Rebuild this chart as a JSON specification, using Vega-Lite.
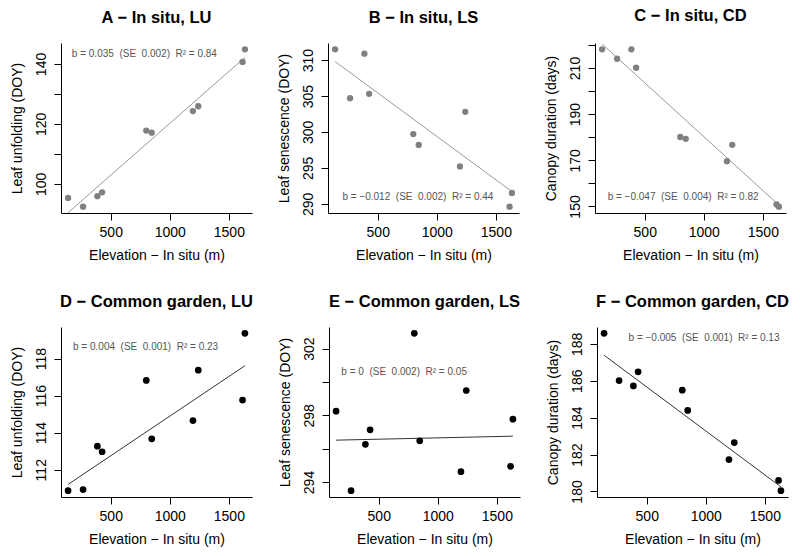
{
  "$schema": "https://vega.github.io/schema/vega-lite/v6.json",
  "padding": {"left": 10, "top": 8, "right": 5, "bottom": 5},
  "background": "white",
  "datasets": {
    "pts": [
      {"p": "A", "elev": 139, "value": 95.3}, {"p": "A", "elev": 266, "value": 92.4}, {"p": "A", "elev": 387, "value": 95.9}, {"p": "A", "elev": 427, "value": 97.2}, {"p": "A", "elev": 801, "value": 117.8}, {"p": "A", "elev": 847, "value": 117.1}, {"p": "A", "elev": 1196, "value": 124.3}, {"p": "A", "elev": 1241, "value": 125.9}, {"p": "A", "elev": 1616, "value": 140.7}, {"p": "A", "elev": 1636, "value": 144.9},
      {"p": "B", "elev": 139, "value": 311.5}, {"p": "B", "elev": 266, "value": 304.7}, {"p": "B", "elev": 387, "value": 310.9}, {"p": "B", "elev": 427, "value": 305.3}, {"p": "B", "elev": 801, "value": 299.7}, {"p": "B", "elev": 847, "value": 298.2}, {"p": "B", "elev": 1196, "value": 295.2}, {"p": "B", "elev": 1241, "value": 302.8}, {"p": "B", "elev": 1616, "value": 289.6}, {"p": "B", "elev": 1636, "value": 291.5},
      {"p": "C", "elev": 139, "value": 218.1}, {"p": "C", "elev": 266, "value": 214.0}, {"p": "C", "elev": 387, "value": 218.1}, {"p": "C", "elev": 427, "value": 210.1}, {"p": "C", "elev": 801, "value": 180.1}, {"p": "C", "elev": 847, "value": 179.3}, {"p": "C", "elev": 1196, "value": 169.6}, {"p": "C", "elev": 1241, "value": 176.7}, {"p": "C", "elev": 1616, "value": 150.9}, {"p": "C", "elev": 1636, "value": 149.9},
      {"p": "D", "elev": 139, "value": 110.87}, {"p": "D", "elev": 266, "value": 110.93}, {"p": "D", "elev": 387, "value": 113.27}, {"p": "D", "elev": 427, "value": 112.97}, {"p": "D", "elev": 801, "value": 116.82}, {"p": "D", "elev": 847, "value": 113.67}, {"p": "D", "elev": 1196, "value": 114.65}, {"p": "D", "elev": 1241, "value": 117.37}, {"p": "D", "elev": 1616, "value": 115.76}, {"p": "D", "elev": 1636, "value": 119.36},
      {"p": "E", "elev": 139, "value": 298.25}, {"p": "E", "elev": 266, "value": 293.48}, {"p": "E", "elev": 387, "value": 296.26}, {"p": "E", "elev": 427, "value": 297.13}, {"p": "E", "elev": 801, "value": 302.92}, {"p": "E", "elev": 847, "value": 296.47}, {"p": "E", "elev": 1196, "value": 294.62}, {"p": "E", "elev": 1241, "value": 299.49}, {"p": "E", "elev": 1616, "value": 294.94}, {"p": "E", "elev": 1636, "value": 297.77},
      {"p": "F", "elev": 139, "value": 188.57}, {"p": "F", "elev": 266, "value": 186.01}, {"p": "F", "elev": 387, "value": 185.72}, {"p": "F", "elev": 427, "value": 186.48}, {"p": "F", "elev": 801, "value": 185.49}, {"p": "F", "elev": 847, "value": 184.39}, {"p": "F", "elev": 1196, "value": 181.73}, {"p": "F", "elev": 1241, "value": 182.65}, {"p": "F", "elev": 1616, "value": 180.60}, {"p": "F", "elev": 1636, "value": 180.04}
    ],
    "lns": [
      {"p": "A", "elev": 139, "value": 90.4}, {"p": "A", "elev": 1636, "value": 142.2},
      {"p": "B", "elev": 139, "value": 309.8}, {"p": "B", "elev": 1636, "value": 291.7},
      {"p": "C", "elev": 139, "value": 220.4}, {"p": "C", "elev": 1636, "value": 150.6},
      {"p": "D", "elev": 139, "value": 111.21}, {"p": "D", "elev": 1636, "value": 117.61},
      {"p": "E", "elev": 139, "value": 296.51}, {"p": "E", "elev": 1636, "value": 296.75},
      {"p": "F", "elev": 139, "value": 187.38}, {"p": "F", "elev": 1636, "value": 180.25}
    ],
    "nts": [
      {"p": "A", "elev": 785, "value": 143.4, "label": "b = 0.035\u00a0\u00a0(SE\u00a0\u00a00.002)\u00a0\u00a0R² = 0.84"},
      {"p": "B", "elev": 840, "value": 290.9, "label": "b = −0.012\u00a0\u00a0(SE\u00a0\u00a00.002)\u00a0\u00a0R² = 0.44"},
      {"p": "C", "elev": 825, "value": 154.0, "label": "b = −0.047\u00a0\u00a0(SE\u00a0\u00a00.004)\u00a0\u00a0R² = 0.82"},
      {"p": "D", "elev": 795, "value": 118.6, "label": "b = 0.004\u00a0\u00a0(SE\u00a0\u00a00.001)\u00a0\u00a0R² = 0.23"},
      {"p": "E", "elev": 715, "value": 300.63, "label": "b = 0\u00a0\u00a0(SE\u00a0\u00a00.002)\u00a0\u00a0R² = 0.05"},
      {"p": "F", "elev": 985, "value": 188.29, "label": "b = −0.005\u00a0\u00a0(SE\u00a0\u00a00.001)\u00a0\u00a0R² = 0.13"}
    ]
  },
  "vconcat": [
    {
      "spacing": 25,
      "hconcat": [
        {
          "width": 191, "height": 170,
          "title": {"text": "A − In situ, LU"},
          "encoding": {
            "x": {"field": "elev", "type": "quantitative", "scale": {"domain": [79, 1696], "nice": false, "zero": false}, "axis": {"values": [500, 1000, 1500], "format": "d", "title": "Elevation − In situ (m)"}},
            "y": {"field": "value", "type": "quantitative", "scale": {"domain": [90.3, 147.0], "nice": false, "zero": false}, "axis": {"values": [100, 110, 120, 130, 140], "labelExpr": "datum.value % 20 == 0 ? datum.label : ''", "title": "Leaf unfolding (DOY)"}}
          },
          "layer": [
            {"data": {"name": "lns"}, "transform": [{"filter": "datum.p == 'A'"}], "mark": {"type": "line", "color": "#999999", "strokeWidth": 1}},
            {"data": {"name": "pts"}, "transform": [{"filter": "datum.p == 'A'"}], "mark": {"type": "circle", "size": 40, "color": "#808080", "opacity": 1}},
            {"data": {"name": "nts"}, "transform": [{"filter": "datum.p == 'A'"}], "mark": {"type": "text", "fontSize": 10, "color": "#555555", "align": "center", "baseline": "middle"}, "encoding": {"text": {"field": "label"}}}
          ]
        },
        {
          "width": 191, "height": 170,
          "title": {"text": "B − In situ, LS"},
          "encoding": {
            "x": {"field": "elev", "type": "quantitative", "scale": {"domain": [79, 1696], "nice": false, "zero": false}, "axis": {"values": [500, 1000, 1500], "format": "d", "title": "Elevation − In situ (m)"}},
            "y": {"field": "value", "type": "quantitative", "scale": {"domain": [288.72, 312.38], "nice": false, "zero": false}, "axis": {"values": [290, 295, 300, 305, 310], "title": "Leaf senescence (DOY)"}}
          },
          "layer": [
            {"data": {"name": "lns"}, "transform": [{"filter": "datum.p == 'B'"}], "mark": {"type": "line", "color": "#999999", "strokeWidth": 1}},
            {"data": {"name": "pts"}, "transform": [{"filter": "datum.p == 'B'"}], "mark": {"type": "circle", "size": 40, "color": "#808080", "opacity": 1}},
            {"data": {"name": "nts"}, "transform": [{"filter": "datum.p == 'B'"}], "mark": {"type": "text", "fontSize": 10, "color": "#555555", "align": "center", "baseline": "middle"}, "encoding": {"text": {"field": "label"}}}
          ]
        },
        {
          "width": 191, "height": 170,
          "title": {"text": "C − In situ, CD"},
          "encoding": {
            "x": {"field": "elev", "type": "quantitative", "scale": {"domain": [79, 1696], "nice": false, "zero": false}, "axis": {"values": [500, 1000, 1500], "format": "d", "title": "Elevation − In situ (m)"}},
            "y": {"field": "value", "type": "quantitative", "scale": {"domain": [147.17, 220.83], "nice": false, "zero": false}, "axis": {"values": [150, 160, 170, 180, 190, 200, 210, 220], "labelExpr": "(datum.value - 150) % 20 == 0 && datum.value < 220 ? datum.label : ''", "title": "Canopy duration (days)"}}
          },
          "layer": [
            {"data": {"name": "lns"}, "transform": [{"filter": "datum.p == 'C'"}], "mark": {"type": "line", "color": "#999999", "strokeWidth": 1}},
            {"data": {"name": "pts"}, "transform": [{"filter": "datum.p == 'C'"}], "mark": {"type": "circle", "size": 40, "color": "#808080", "opacity": 1}},
            {"data": {"name": "nts"}, "transform": [{"filter": "datum.p == 'C'"}], "mark": {"type": "text", "fontSize": 10, "color": "#555555", "align": "center", "baseline": "middle"}, "encoding": {"text": {"field": "label"}}}
          ]
        }
      ]
    },
    {
      "spacing": 25,
      "hconcat": [
        {
          "width": 191, "height": 170,
          "title": {"text": "D − Common garden, LU"},
          "encoding": {
            "x": {"field": "elev", "type": "quantitative", "scale": {"domain": [79, 1696], "nice": false, "zero": false}, "axis": {"values": [500, 1000, 1500], "format": "d", "title": "Elevation − In situ (m)"}},
            "y": {"field": "value", "type": "quantitative", "scale": {"domain": [110.53, 119.70], "nice": false, "zero": false}, "axis": {"values": [112, 114, 116, 118], "title": "Leaf unfolding (DOY)"}}
          },
          "layer": [
            {"data": {"name": "lns"}, "transform": [{"filter": "datum.p == 'D'"}], "mark": {"type": "line", "color": "#333333", "strokeWidth": 1}},
            {"data": {"name": "pts"}, "transform": [{"filter": "datum.p == 'D'"}], "mark": {"type": "circle", "size": 45, "color": "#000000", "opacity": 1}},
            {"data": {"name": "nts"}, "transform": [{"filter": "datum.p == 'D'"}], "mark": {"type": "text", "fontSize": 10, "color": "#555555", "align": "center", "baseline": "middle"}, "encoding": {"text": {"field": "label"}}}
          ]
        },
        {
          "width": 191, "height": 170,
          "title": {"text": "E − Common garden, LS"},
          "encoding": {
            "x": {"field": "elev", "type": "quantitative", "scale": {"domain": [79, 1696], "nice": false, "zero": false}, "axis": {"values": [500, 1000, 1500], "format": "d", "title": "Elevation − In situ (m)"}},
            "y": {"field": "value", "type": "quantitative", "scale": {"domain": [293.10, 303.30], "nice": false, "zero": false}, "axis": {"values": [294, 296, 298, 300, 302], "labelExpr": "(datum.value - 294) % 4 == 0 ? datum.label : ''", "title": "Leaf senescence (DOY)"}}
          },
          "layer": [
            {"data": {"name": "lns"}, "transform": [{"filter": "datum.p == 'E'"}], "mark": {"type": "line", "color": "#333333", "strokeWidth": 1}},
            {"data": {"name": "pts"}, "transform": [{"filter": "datum.p == 'E'"}], "mark": {"type": "circle", "size": 45, "color": "#000000", "opacity": 1}},
            {"data": {"name": "nts"}, "transform": [{"filter": "datum.p == 'E'"}], "mark": {"type": "text", "fontSize": 10, "color": "#555555", "align": "center", "baseline": "middle"}, "encoding": {"text": {"field": "label"}}}
          ]
        },
        {
          "width": 191, "height": 170,
          "title": {"text": "F − Common garden, CD"},
          "encoding": {
            "x": {"field": "elev", "type": "quantitative", "scale": {"domain": [79, 1696], "nice": false, "zero": false}, "axis": {"values": [500, 1000, 1500], "format": "d", "title": "Elevation − In situ (m)"}},
            "y": {"field": "value", "type": "quantitative", "scale": {"domain": [179.70, 188.91], "nice": false, "zero": false}, "axis": {"values": [180, 182, 184, 186, 188], "title": "Canopy duration (days)"}}
          },
          "layer": [
            {"data": {"name": "lns"}, "transform": [{"filter": "datum.p == 'F'"}], "mark": {"type": "line", "color": "#333333", "strokeWidth": 1}},
            {"data": {"name": "pts"}, "transform": [{"filter": "datum.p == 'F'"}], "mark": {"type": "circle", "size": 45, "color": "#000000", "opacity": 1}},
            {"data": {"name": "nts"}, "transform": [{"filter": "datum.p == 'F'"}], "mark": {"type": "text", "fontSize": 10, "color": "#555555", "align": "center", "baseline": "middle"}, "encoding": {"text": {"field": "label"}}}
          ]
        }
      ]
    }
  ],
  "spacing": 30,
  "config": {
    "font": "Liberation Sans",
    "view": {"stroke": null},
    "title": {"font": "Liberation Sans", "fontSize": 16.5, "fontWeight": "bold", "color": "#000000", "anchor": "middle", "frame": "group", "baseline": "alphabetic", "offset": 17},
    "axis": {
      "grid": false,
      "domainColor": "#000000", "domainWidth": 1,
      "tickColor": "#000000", "tickWidth": 1, "tickSize": 7,
      "labelFont": "Liberation Sans", "labelFontSize": 14, "labelColor": "#000000",
      "labelOverlap": false, "labelFlush": false,
      "titleFont": "Liberation Sans", "titleFontSize": 14, "titleFontWeight": "normal", "titleColor": "#000000"
    },
    "axisX": {"labelPadding": 5.5, "titlePadding": 9},
    "axisY": {"labelAngle": -90, "labelAlign": "center", "labelBaseline": "alphabetic", "labelPadding": 9, "titlePadding": 10}
  }
}
